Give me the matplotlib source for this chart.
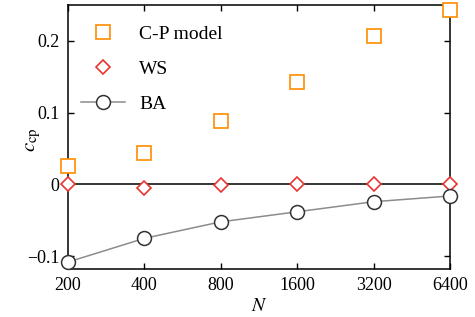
import numpy as np
import matplotlib
matplotlib.use("Agg")
import matplotlib.pyplot as plt
from matplotlib.ticker import FixedLocator, FuncFormatter, NullLocator

plt.rcParams['font.family'] = ['Liberation Serif', 'DejaVu Serif']
plt.rcParams['mathtext.fontset'] = 'stix'
plt.rcParams['font.size'] = 13.5

# data
N = [200, 400, 800, 1600, 3200, 6400]
cp_model = [0.026, 0.044, 0.088, 0.143, 0.207, 0.243]
ws = [0.0, -0.005, -0.001, 0.0, 0.0, 0.001]
ba = [-0.108, -0.075, -0.052, -0.038, -0.024, -0.016]
yticks = [-0.1, 0, 0.1, 0.2]

fig = plt.figure(figsize=(4.75, 3.17), dpi=100)
ax = fig.add_axes([68 / 475, 48 / 317, 382 / 475, 264 / 317])

ax.axhline(0, color='black', lw=1.1, zorder=1)
ax.plot(N, cp_model, 's', ms=10, mfc='white', mec='#ff8c00', mew=1.2,
        ls='none', label='C-P model', clip_on=False, zorder=3)
ax.plot(N, ws, 'D', ms=7, mfc='white', mec='#e8332e', mew=1.2,
        ls='none', label='WS', clip_on=False, zorder=3)
ax.plot(N, ba, 'o', ls='-', color='#8c8c8c', lw=1.1, ms=10, mfc='white',
        mec='#333333', mew=1.1, label='BA', clip_on=False, zorder=3)

ax.set_xscale('log', base=2)
ax.set_xlim(200, 6400)
ax.set_ylim(-0.1177, 0.25)
ax.xaxis.set_major_locator(FixedLocator(N))
ax.xaxis.set_minor_locator(NullLocator())
ax.xaxis.set_major_formatter(FuncFormatter(lambda v, p: '%d' % v))
ax.yaxis.set_major_locator(FixedLocator(yticks))
ax.yaxis.set_major_formatter(FuncFormatter(
    lambda v, p: '0' if abs(v) < 1e-9 else ('%g' % v).replace('-', '\u2212')))

ax.tick_params(direction='in', top=True, right=True, length=4, width=1,
               labelsize=13, pad=6)
for s in ax.spines.values():
    s.set_linewidth(1.1)

ax.set_xlabel('$N$', fontsize=14)
ax.set_ylabel('$c_{\\rm cp}$', fontsize=15)
ax.xaxis.set_label_coords(0.5, -0.11)
ax.yaxis.set_label_coords(-0.066, 0.49)

ax.legend(loc='upper left', frameon=False, bbox_to_anchor=(-0.01, 0.985),
          handlelength=2.3, handletextpad=0.7, labelspacing=0.88,
          borderaxespad=0.45, fontsize=14)

fig.savefig('out.png', dpi=100)
